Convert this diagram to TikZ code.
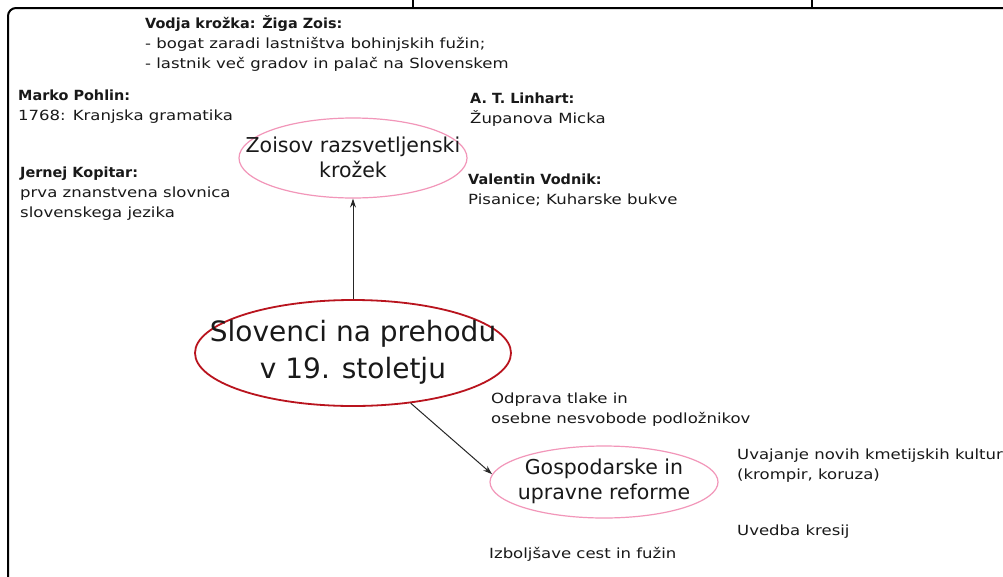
\documentclass[tikz,border=0pt]{standalone}
\usepackage{fontspec}
\setmainfont{DejaVu Sans}[FakeStretch=1.18, BoldFeatures={FakeStretch=1.03}]
\newfontfamily\plainfont{DejaVu Sans}
\usetikzlibrary{shapes.geometric,arrows.meta}
\definecolor{mainred}{RGB}{185,20,30}
\definecolor{subpink}{RGB}{242,150,185}
\definecolor{ink}{RGB}{25,25,25}
\begin{document}
\begin{tikzpicture}[x=1pt,y=-1pt,
  note/.style={inner sep=0pt, align=left, anchor=west, text=ink, font=\fontsize{14}{20}\selectfont},
  mainell/.style={ellipse, draw=mainred, line width=1.8pt, inner sep=0pt},
  subell/.style={ellipse, draw=subpink, line width=1.2pt, inner sep=0pt},
  maintext/.style={inner sep=0pt, align=center, text=ink, font=\plainfont\fontsize{28}{37}\selectfont},
  subtext/.style={inner sep=0pt, align=center, text=ink, font=\plainfont\fontsize{20.5}{25}\selectfont},
  conn/.style={draw=black!85, line width=1pt, -{Stealth[length=9pt,width=6pt]}},
  frame/.style={draw=black, line width=2pt}
]
\clip (0,0) rectangle (1003,576);
\fill[white] (0,0) rectangle (1003,576);
% frame
\coordinate (fbl) at (8,580);
\coordinate (ftr) at (1010,8);
\draw[frame, rounded corners=8pt] (fbl) |- (ftr);
\coordinate (t1a) at (413,-2);
\coordinate (t1b) at (413,8);
\coordinate (t2a) at (812,-2);
\coordinate (t2b) at (812,8);
\draw[line width=1.5pt] (t1a) -- (t1b);
\draw[line width=1.5pt] (t2a) -- (t2b);

% ellipses
\node[mainell, minimum width=316pt, minimum height=106pt] (main) at (353,353) {};
\node[maintext] (maint) at (353,352) {Slovenci na prehodu\\v 19. stoletju};
\node[subell, minimum width=228pt, minimum height=80pt] (zois) at (353,158) {};
\node[subtext] (zoist) at (353,157) {Zoisov razsvetljenski\\krožek};
\node[subell, minimum width=228pt, minimum height=72pt] (gosp) at (604,482) {};
\node[subtext] (gospt) at (604,481) {Gospodarske in\\upravne reforme};

% connectors
\draw[conn] (main) -- (zois);
\draw[conn] (main.-41) -- (gosp.176);

% notes
\node[note] (vodja) at (145,43) {\textbf{Vodja krožka: Žiga Zois:}\\- bogat zaradi lastništva bohinjskih fužin;\\- lastnik več gradov in palač na Slovenskem};
\node[note] (pohlin) at (18,107) {\textbf{Marko Pohlin:}\\1768: Kranjska gramatika};
\node[note] (kopitar) at (20,194) {\textbf{Jernej Kopitar:}\\prva znanstvena slovnica\\slovenskega jezika};
\node[note] (linhart) at (470,110) {\textbf{A. T. Linhart:}\\Županova Micka};
\node[note] (vodnik) at (468,190) {\textbf{Valentin Vodnik:}\\Pisanice; Kuharske bukve};
\node[note] (tlaka) at (491,410) {Odprava tlake in\\osebne nesvobode podložnikov};
\node[note] (kulture) at (737,466) {Uvajanje novih kmetijskih kultur\\(krompir, koruza)};
\node[note] (kresije) at (737,532) {Uvedba kresij};
\node[note] (ceste) at (489,554) {Izboljšave cest in fužin};
\end{tikzpicture}
\end{document}
